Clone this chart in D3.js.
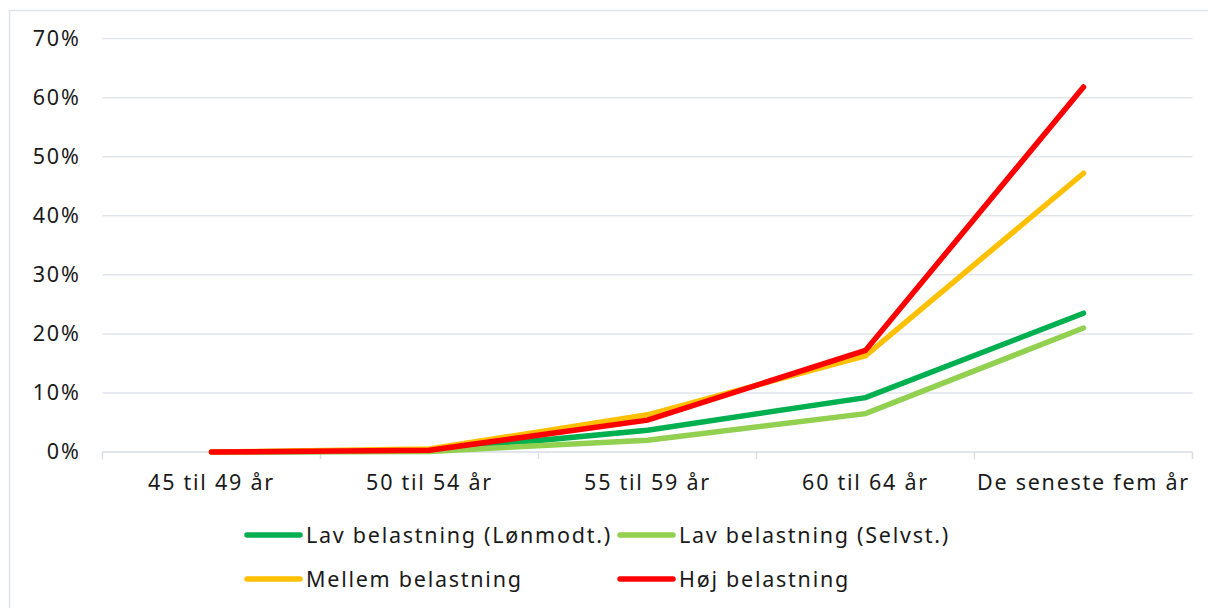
<!DOCTYPE html>
<html>
<head>
<meta charset="utf-8">
<script src="https://cdn.jsdelivr.net/npm/d3@7"></script>
<style>
  html, body { margin: 0; padding: 0; background: #fff; }
  svg { display: block; font-family: "Noto Sans", "Open Sans", sans-serif; }
  svg text { letter-spacing: 1.75px; }
</style>
</head>
<body>
<svg id="chart" width="1208" height="608"></svg>
<script>
// Age groups along the x axis
const categories = ["45 til 49 år", "50 til 54 år", "55 til 59 år", "60 til 64 år", "De seneste fem år"];

// Share (%) per group for each load level
const lavLonmodt = [0, 0.2, 3.7, 9.2, 23.5];
const lavSelvst  = [0, 0.1, 2.0, 6.5, 21.0];
const mellem     = [0, 0.5, 6.3, 16.3, 47.2];
const hoj        = [0, 0.3, 5.4, 17.2, 61.8];

const seriesNames  = ["Lav belastning (Lønmodt.)", "Lav belastning (Selvst.)", "Mellem belastning", "Høj belastning"];
const seriesValues = [lavLonmodt, lavSelvst, mellem, hoj];
const seriesColors = ["#00B050", "#92D050", "#FFC000", "#FF0000"];

const yTicks = [0, 10, 20, 30, 40, 50, 60, 70];

const svg = d3.select("#chart");
const fontSize = 21.5;

// outer frame
svg.append("rect")
  .attr("x", 9.5).attr("y", 10.5)
  .attr("width", 1220).attr("height", 620)
  .attr("fill", "none").attr("stroke", "#dfe3ea").attr("stroke-width", 1.5);

const plot = { left: 102.5, right: 1192.5, top: 38.6, bottom: 452 };

const x = d3.scaleBand().domain(categories).range([plot.left, plot.right]).padding(0);
const y = d3.scaleLinear().domain([0, 70]).range([plot.bottom, plot.top]);

// horizontal gridlines
svg.append("g")
  .selectAll("line")
  .data(yTicks.filter(d => d > 0))
  .join("line")
  .attr("x1", plot.left).attr("x2", plot.right)
  .attr("y1", d => y(d)).attr("y2", d => y(d))
  .attr("stroke", "#e1e5ec").attr("stroke-width", 1.5);

// y axis labels
const yAxis = d3.axisLeft(y).tickValues(yTicks).tickFormat(d => d + "%").tickSize(0).tickPadding(0);
const yg = svg.append("g").attr("transform", `translate(${plot.left - 22},0)`).call(yAxis);
yg.select(".domain").remove();
yg.selectAll("text")
  .attr("font-size", fontSize).attr("fill", "#1a1a1a")
  .attr("font-family", "\"Noto Sans\", sans-serif");

// x axis with boundary ticks
const xg = svg.append("g").attr("transform", `translate(0,${plot.bottom})`);
xg.append("line")
  .attr("x1", plot.left).attr("x2", plot.right)
  .attr("stroke", "#d9dde4").attr("stroke-width", 1.5);
const bounds = categories.map(c => x(c)).concat([x(categories[categories.length - 1]) + x.bandwidth()]);
xg.selectAll("line.tick")
  .data(bounds)
  .join("line")
  .attr("class", "tick")
  .attr("x1", d => d).attr("x2", d => d)
  .attr("y1", 0).attr("y2", 7)
  .attr("stroke", "#d9dde4").attr("stroke-width", 1.5);
xg.selectAll("text")
  .data(categories)
  .join("text")
  .attr("x", d => x(d) + x.bandwidth() / 2)
  .attr("y", 38)
  .attr("text-anchor", "middle")
  .attr("font-size", fontSize).attr("fill", "#1a1a1a")
  .text(d => d);

// series lines
const line = d3.line()
  .x((d, i) => x(categories[i]) + x.bandwidth() / 2)
  .y(d => y(d));

svg.append("g")
  .selectAll("path")
  .data(seriesValues)
  .join("path")
  .attr("d", d => line(d))
  .attr("fill", "none")
  .attr("stroke", (d, i) => seriesColors[i])
  .attr("stroke-width", 5.5)
  .attr("stroke-linecap", "round")
  .attr("stroke-linejoin", "miter");

// legend, two per row
const legendPos = [[247, 535], [620, 535], [247, 579], [620, 579]];
const lg = svg.append("g")
  .selectAll("g")
  .data(seriesNames)
  .join("g")
  .attr("transform", (d, i) => `translate(${legendPos[i][0]},${legendPos[i][1]})`);
lg.append("line")
  .attr("x1", 0).attr("x2", 53).attr("y1", 0).attr("y2", 0)
  .attr("stroke", (d, i) => seriesColors[i])
  .attr("stroke-width", 5.5)
  .attr("stroke-linecap", "round");
lg.append("text")
  .attr("x", 59).attr("y", 8)
  .attr("font-size", fontSize).attr("fill", "#1a1a1a")
  .text(d => d);
</script>
</body>
</html>
